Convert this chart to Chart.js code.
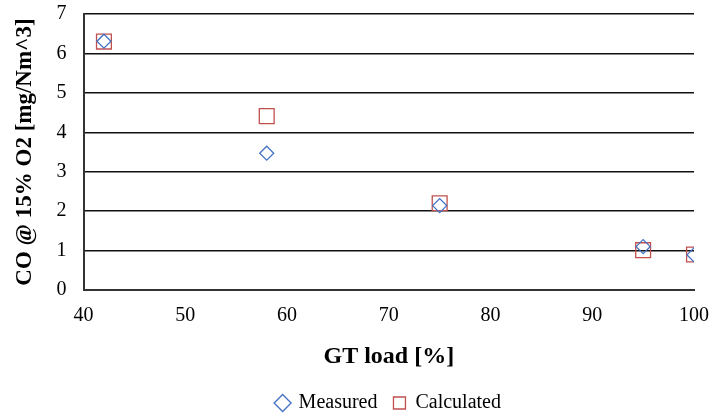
<!DOCTYPE html>
<html>
<head>
<meta charset="utf-8">
<script src="https://cdn.jsdelivr.net/npm/chart.js@4"></script>
<style>
  html, body { margin: 0; padding: 0; background: #fff; }
  #wrap { width: 712px; height: 414px; }
</style>
</head>
<body>
<div id="wrap"><canvas id="coChart" width="712" height="414"></canvas></div>
<script>
// Carga de la turbina [%] y CO corregido al 15% O2
const gtLoad = [42, 58, 75, 95, 100];
const measured = [6.31, 3.47, 2.14, 1.10, 0.89];
const calculated = [6.30, 4.41, 2.20, 1.01, 0.90];
const xTicks = [40, 50, 60, 70, 80, 90, 100];
const yTicks = [0, 1, 2, 3, 4, 5, 6, 7];

const toPoints = (xs, ys) => xs.map((x, i) => ({ x: x, y: ys[i] }));

const serif = "'Liberation Serif', 'Times New Roman', serif";
const clear = 'rgba(0,0,0,0)';

const config = {
  type: 'scatter',
  data: {
    datasets: [{
      label: 'Measured',
      data: toPoints(gtLoad, measured),
      pointStyle: 'rectRot',
      pointRadius: 7,
      pointHoverRadius: 7,
      borderColor: '#4472c4',
      backgroundColor: clear,
      borderWidth: 1.3
    }, {
      label: 'Calculated',
      data: toPoints(gtLoad, calculated),
      pointStyle: 'rect',
      pointRadius: 10.5,
      pointHoverRadius: 10.5,
      borderColor: '#c0504d',
      backgroundColor: clear,
      borderWidth: 1.3
    }]
  },
  options: {
    responsive: false,
    animation: false,
    layout: { autoPadding: false, padding: { top: 2, right: 18, left: 9, bottom: -9 } },
    plugins: {
      tooltip: { enabled: false },
      legend: {
        position: 'bottom',
        fullSize: false,
        labels: {
          usePointStyle: true,
          boxWidth: 12,
          boxHeight: 12,
          padding: 16,
          color: '#000',
          font: { family: serif, size: 20 }
        }
      }
    },
    scales: {
      x: {
        type: 'linear',
        min: 40,
        max: 100,
        afterBuildTicks: axis => { axis.ticks = xTicks.map(v => ({ value: v })); },
        // marcas invisibles: solo separan las etiquetas del eje
        grid: { color: clear, drawTicks: true, tickLength: 14, tickColor: clear },
        border: { display: true, color: '#333', width: 2 },
        ticks: { color: '#000', padding: 0, font: { family: serif, size: 20 } },
        title: {
          display: true,
          text: 'GT load [%]',
          color: '#000',
          padding: { top: 14.6, bottom: 5.6 },
          font: { family: serif, size: 24, weight: 'bold' }
        }
      },
      y: {
        type: 'linear',
        min: 0,
        max: 7,
        afterBuildTicks: axis => { axis.ticks = yTicks.map(v => ({ value: v })); },
        grid: { color: '#111', lineWidth: 1.5, drawTicks: true, tickLength: 15, tickColor: clear },
        border: { display: true, color: '#333', width: 2 },
        ticks: { color: '#000', padding: 2, font: { family: serif, size: 20 } },
        title: {
          display: true,
          text: 'CO @ 15% O2 [mg/Nm^3]',
          color: '#000',
          padding: { top: 2, bottom: 16 },
          font: { family: serif, size: 23, weight: 'bold' }
        }
      }
    }
  }
};

new Chart(document.getElementById('coChart'), config);
</script>
</body>
</html>
